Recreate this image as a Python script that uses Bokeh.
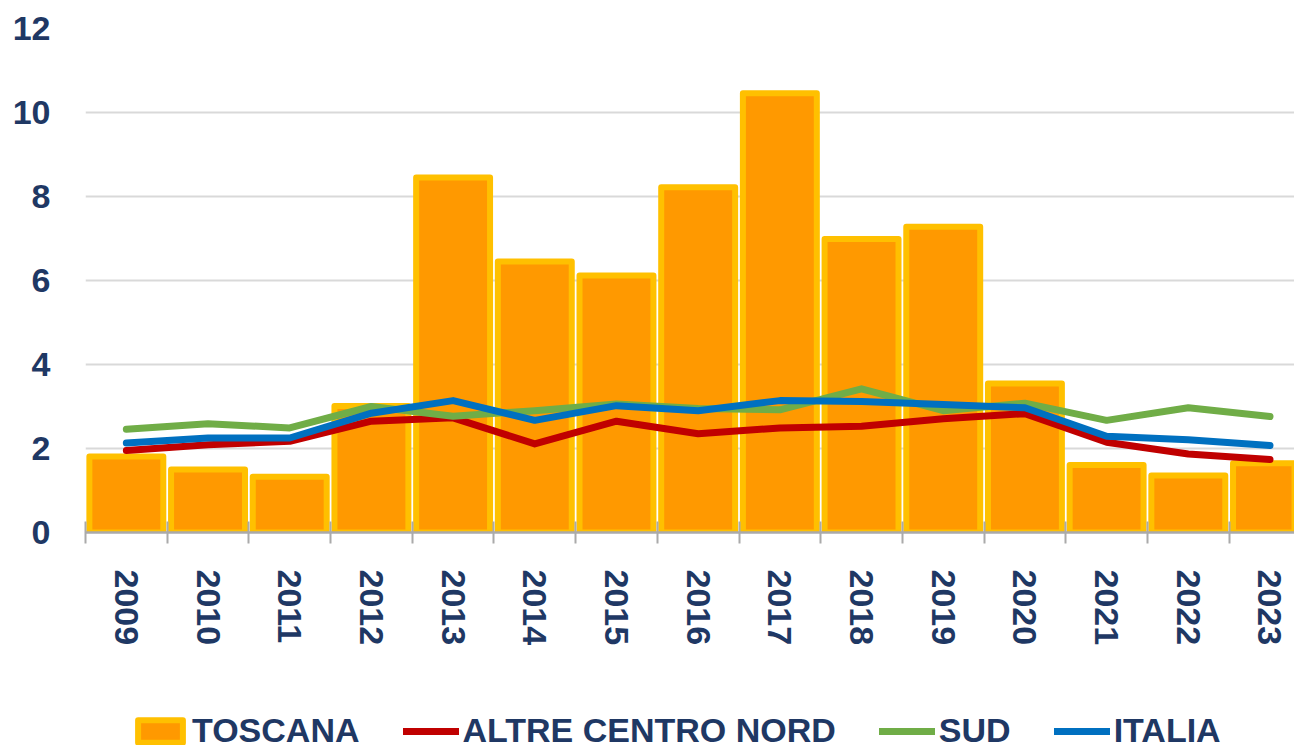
from bokeh.plotting import figure
from bokeh.layouts import column
from bokeh.models import (ColumnDataSource, FixedTicker, Range1d, Legend, LegendItem)
from bokeh.embed import file_html
from bokeh.resources import INLINE

years = ["2009", "2010", "2011", "2012", "2013", "2014", "2015", "2016",
         "2017", "2018", "2019", "2020", "2021", "2022", "2023"]
toscana = [1.81, 1.50, 1.33, 3.01, 8.45, 6.45, 6.12, 8.22, 10.46, 6.99, 7.28, 3.55, 1.61, 1.36, 1.65]
altre_centro_nord = [1.95, 2.09, 2.17, 2.65, 2.73, 2.11, 2.65, 2.35, 2.49, 2.53, 2.71, 2.83, 2.15, 1.87, 1.74]
sud = [2.46, 2.59, 2.49, 3.00, 2.77, 2.90, 3.06, 2.95, 2.92, 3.42, 2.90, 3.08, 2.67, 2.97, 2.76]
italia = [2.13, 2.25, 2.25, 2.84, 3.14, 2.67, 3.02, 2.90, 3.14, 3.12, 3.05, 2.97, 2.29, 2.21, 2.07]
y_ticks = [0, 2, 4, 6, 8, 10, 12]
series_names = ["TOSCANA", "ALTRE CENTRO NORD", "SUD", "ITALIA"]

NAVY = "#1F3864"
FONT = "Liberation Sans"
BAR_FILL, BAR_LINE = "#FF9900", "#FFC000"
RED, GREEN, BLUE = "#C00000", "#70AD47", "#0070C0"

xs = list(range(len(years)))
src = ColumnDataSource(dict(x=xs, toscana=toscana, acn=altre_centro_nord, sud=sud, italia=italia))


def add_series(fig):
    rb = fig.vbar(x="x", top="toscana", width=0.905, bottom=0, source=src,
                  fill_color=BAR_FILL, line_color=BAR_LINE, line_width=6, line_join="round")
    ra = fig.line(x="x", y="acn", source=src, line_color=RED, line_width=7, line_cap="round", line_join="round")
    rs = fig.line(x="x", y="sud", source=src, line_color=GREEN, line_width=7, line_cap="round", line_join="round")
    ri = fig.line(x="x", y="italia", source=src, line_color=BLUE, line_width=7, line_cap="round", line_join="round")
    return [rb, ra, rs, ri]


p = figure(width=1294, height=710, output_backend="svg", toolbar_location=None,
           x_range=Range1d(-0.5, 14.30), y_range=Range1d(0, 12),
           min_border_left=85, min_border_right=0, min_border_top=28, min_border_bottom=178)
p.outline_line_color = None
p.background_fill_color = "white"
add_series(p)

# x axis
p.xaxis.ticker = FixedTicker(ticks=xs, minor_ticks=[i - 0.5 for i in range(len(years) + 1)])
p.xaxis.major_label_overrides = {i: y for i, y in enumerate(years)}
p.xaxis.major_label_orientation = "vertical"
p.xaxis.major_tick_in = 0
p.xaxis.major_tick_out = 0
p.xaxis.minor_tick_in = 11
p.xaxis.minor_tick_out = 11
p.xaxis.minor_tick_line_color = "#AAAAAA"
p.xaxis.minor_tick_line_width = 2
p.xaxis.axis_line_color = "#AAAAAA"
p.xaxis.axis_line_width = 2.5
p.xaxis.major_label_standoff = 26
p.xaxis.major_label_text_font = FONT
p.xaxis.major_label_text_font_style = "bold"
p.xaxis.major_label_text_font_size = "34px"
p.xaxis.major_label_text_color = NAVY

# y axis
p.yaxis.ticker = FixedTicker(ticks=y_ticks)
p.yaxis.axis_line_color = None
p.yaxis.major_tick_line_color = None
p.yaxis.minor_tick_line_color = None
p.yaxis.major_label_standoff = 29
p.yaxis.major_label_text_font = FONT
p.yaxis.major_label_text_font_style = "bold"
p.yaxis.major_label_text_font_size = "34px"
p.yaxis.major_label_text_color = NAVY

p.xgrid.grid_line_color = None
p.ygrid.grid_line_color = "#D9D9D9"
p.ygrid.grid_line_width = 2

# legend strip (separate figure beneath the chart; its series are hidden, only the legend shows)
lg = figure(width=1294, height=35, output_backend="svg", toolbar_location=None,
            x_range=Range1d(-0.5, 14.30), y_range=Range1d(0, 12),
            x_axis_location=None, y_axis_location=None, min_border=0)
lg.outline_line_color = None
lg.grid.visible = False
lg_renderers = add_series(lg)
for r in lg_renderers:
    r.visible = False

legend = Legend(items=[LegendItem(label=n, renderers=[r]) for n, r in zip(series_names, lg_renderers)],
                location=(47, -5), orientation="horizontal")
legend.padding = 0
legend.margin = 0
legend.spacing = 43
legend.glyph_width = 56
legend.glyph_height = 28
legend.label_standoff = 4
legend.label_text_font = FONT
legend.label_text_font_style = "bold"
legend.label_text_font_size = "34px"
legend.label_text_color = NAVY
legend.background_fill_alpha = 0
legend.border_line_color = None
legend.inactive_fill_alpha = 0
lg.add_layout(legend)

open("out.html", "w").write(file_html(column(p, lg), INLINE))
